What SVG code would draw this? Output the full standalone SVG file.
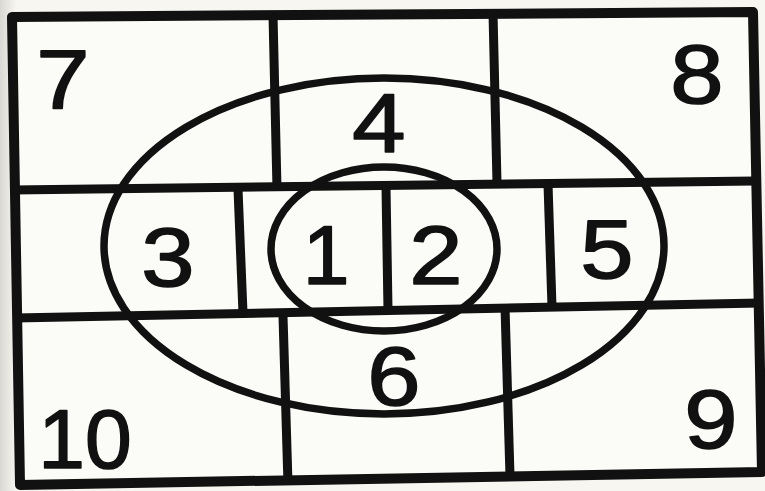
<svg xmlns="http://www.w3.org/2000/svg" width="765" height="491" viewBox="0 0 765 491">
<defs>
<linearGradient id="shade" x1="0" y1="0" x2="1" y2="0">
<stop offset="0" stop-color="#d9d8d3"/>
<stop offset="1" stop-color="#f6f5f0"/>
</linearGradient>
<style>
.frame{fill:none;stroke:#111;stroke-width:10;stroke-linejoin:round}
.grid{fill:none;stroke:#111;stroke-width:9;stroke-linecap:butt}
.ell{fill:none;stroke:#111;stroke-width:7.5}
.num{font-family:"Liberation Sans","DejaVu Sans",sans-serif;font-size:84px;fill:#111;stroke:#111;stroke-width:1.6;stroke-linejoin:round;text-anchor:middle}
.w{transform-box:fill-box;transform-origin:center;transform:scaleX(1.14)}
</style>
</defs>
<rect x="0" y="0" width="765" height="491" fill="#f7f6f1"/>
<rect x="0" y="0" width="16" height="491" fill="url(#shade)"/>
<polygon points="12,17 753,12 762,472 20,485" fill="#fbfbf7"/>
<g id="connectors">
<polygon class="frame" points="12,17 753,12 762,472 20,485"/>
<line class="grid" x1="12" y1="190" x2="755" y2="181"/>
<line class="grid" x1="15" y1="318" x2="760" y2="303"/>
<line class="grid" x1="273" y1="15" x2="277" y2="189"/>
<line class="grid" x1="493" y1="13" x2="497" y2="183"/>
<line class="grid" x1="238" y1="189" x2="243" y2="313"/>
<line class="grid" x1="386" y1="187" x2="388" y2="310"/>
<line class="grid" x1="548" y1="184" x2="552" y2="307"/>
<line class="grid" x1="283" y1="316" x2="288" y2="484"/>
<line class="grid" x1="505" y1="307" x2="510" y2="476"/>
<ellipse class="ell" cx="384" cy="246" rx="280" ry="168"/>
<ellipse class="ell" cx="384" cy="249" rx="113" ry="82"/>
</g>
<g id="n1"><text class="num" x="326" y="284">1</text></g>
<g id="n2"><text class="num w" x="436" y="284">2</text></g>
<g id="n3"><text class="num w" x="168" y="286">3</text></g>
<g id="n4"><text class="num w" x="379" y="152">4</text></g>
<g id="n5"><text class="num w" x="607" y="278">5</text></g>
<g id="n6"><text class="num w" x="394" y="405">6</text></g>
<g id="n7"><text class="num w" x="63" y="108">7</text></g>
<g id="n8"><text class="num w" x="697" y="103">8</text></g>
<g id="n9"><text class="num w" x="711" y="448">9</text></g>
<g id="n10"><text class="num" x="85" y="468">10</text></g>
</svg>
